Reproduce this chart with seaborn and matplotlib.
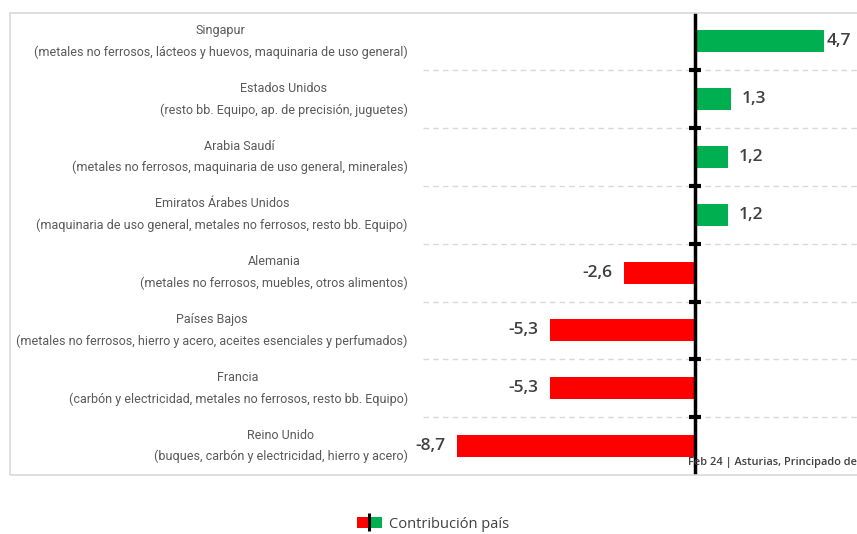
import matplotlib
matplotlib.use("Agg")
import matplotlib.pyplot as plt
import seaborn as sns
from matplotlib.patches import Patch, Rectangle
from matplotlib.lines import Line2D
from matplotlib.legend_handler import HandlerTuple

# datos
paises = ["Singapur", "Estados Unidos", "Arabia Saudí", "Emiratos Árabes Unidos",
          "Alemania", "Países Bajos", "Francia", "Reino Unido"]
productos = ["metales no ferrosos, lácteos y huevos, maquinaria de uso general",
             "resto bb. Equipo, ap. de precisión, juguetes",
             "metales no ferrosos, maquinaria de uso general, minerales",
             "maquinaria de uso general, metales no ferrosos, resto bb. Equipo",
             "metales no ferrosos, muebles, otros alimentos",
             "metales no ferrosos, hierro y acero, aceites esenciales y perfumados",
             "carbón y electricidad, metales no ferrosos, resto bb. Equipo",
             "buques, carbón y electricidad, hierro y acero"]
contribucion = [4.7, 1.3, 1.2, 1.2, -2.6, -5.3, -5.3, -8.7]
pie = "Feb 24 | Asturias, Principado de"
leyenda = "Contribución país"

VERDE = "#00B050"
ROJO = "#FF0000"
GRIS = "#595959"

etiquetas = [f"{p}\n({q})" for p, q in zip(paises, productos)]
colores = [VERDE if v > 0 else ROJO for v in contribucion]

W, H = 857, 534
fig = plt.figure(figsize=(W / 100, H / 100), dpi=100)

# marco gris del gráfico
fig.patches.append(Rectangle((10 / W, 1 - 475 / H), 900 / W, (475 - 12.5) / H,
                             transform=fig.transFigure, fill=False,
                             edgecolor="#d9d9d9", linewidth=1.2))

ax = fig.add_axes([423 / W, 1 - 475 / H, (870 - 423) / W, (475 - 12.5) / H])
sns.barplot(x=contribucion, y=etiquetas, hue=etiquetas, palette=colores,
            saturation=1, width=0.38, orient="h", legend=False, ax=ax)

ax.set_xlim((423 - 695) / 27.4, (870 - 695) / 27.4)
ax.set_ylim(len(etiquetas) - 0.5, -0.5)

# líneas de separación y eje cero
limites = [i + 0.5 for i in range(len(etiquetas) - 1)]
for y in limites:
    ax.axhline(y, color="#d9d9d9", linestyle=(0, (4, 3)), linewidth=1, zorder=0)
ax.axvline(0, color="black", linewidth=2.5, zorder=3)
ax.plot([0] * len(limites), limites, linestyle="none", marker="_",
        markersize=9, markeredgewidth=3, color="black", zorder=4)

# etiquetas de valor
for i, v in enumerate(contribucion):
    txt = f"{v:.1f}".replace(".", ",")
    if v > 0:
        off = 2 if v > 4 else 8
        ax.annotate(txt, (v, i), xytext=(off, 0), textcoords="offset points",
                    ha="left", va="center", fontsize=12.5, color="#404040",
                    family="Open Sans", fontweight="semibold")
    else:
        ax.annotate(txt, (v, i), xytext=(-8, 0), textcoords="offset points",
                    ha="right", va="center", fontsize=12.5, color="#404040",
                    family="Open Sans", fontweight="semibold")

ax.set_xticks([])
ax.set_xlabel("")
ax.set_ylabel("")
ax.tick_params(axis="y", length=0, pad=11)
for t in ax.get_yticklabels():
    t.set_multialignment("center")
    t.set_verticalalignment("center")
    t.set_family(["Roboto", "DejaVu Sans"])
    t.set_fontsize(9.0)
    t.set_color(GRIS)
    t.set_linespacing(1.8)
for s in ax.spines.values():
    s.set_visible(False)

fig.text(688 / W, 1 - 463 / H, pie, ha="left", va="center", fontsize=7.9,
         color="#404040", family="Open Sans", fontweight="semibold")

# leyenda
rojo = Patch(facecolor=ROJO)
verde = Patch(facecolor=VERDE)
par = (rojo, verde)
barra = Line2D([], [], color="black", marker="|", linestyle="none",
               markersize=13, markeredgewidth=2.2)
mango = (par, barra)
fig.legend([mango], [leyenda], loc="center", bbox_to_anchor=(433 / W, 1 - 524 / H),
           frameon=False, handlelength=1.75, handleheight=0.75, handletextpad=0.5,
           prop={"family": "Open Sans", "size": 10.5},
           labelcolor="#404040",
           handler_map={mango: HandlerTuple(ndivide=1), par: HandlerTuple(ndivide=2, pad=0)})

fig.savefig("out.png", dpi=100)
